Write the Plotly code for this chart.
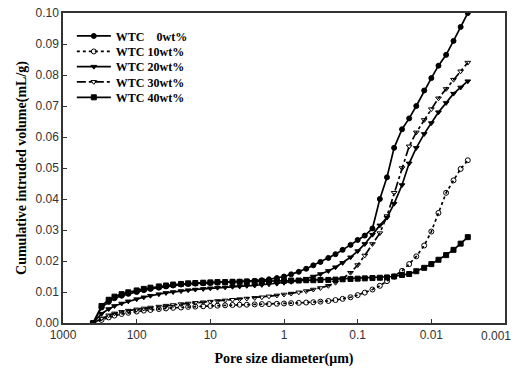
import plotly.graph_objects as go

# Pore diameters (µm) of the intrusion readings, shared by all samples
pore_diameter = [390, 300, 240, 200, 160, 130, 100, 80, 65, 50, 40, 32, 25, 20, 16, 12.5,
                 10, 8, 6.3, 5, 4, 3.2, 2.5, 2, 1.6, 1.25, 1, 0.8, 0.63, 0.5, 0.4, 0.32,
                 0.25, 0.2, 0.16, 0.125, 0.1, 0.08, 0.063, 0.05, 0.04, 0.032, 0.025, 0.02,
                 0.016, 0.0125, 0.01, 0.008, 0.0063, 0.005, 0.004, 0.0032]

# Cumulative intruded volume (mL/g)
wtc_0 = [0.0, 0.0050, 0.0068, 0.0080, 0.0088, 0.0094, 0.0100, 0.0106, 0.0110, 0.0114,
         0.0118, 0.0121, 0.0124, 0.0126, 0.0127, 0.0128, 0.0129, 0.0130, 0.0131, 0.0132,
         0.0133, 0.0134, 0.0136, 0.0138, 0.0141, 0.0145, 0.0150, 0.0157, 0.0165, 0.0175,
         0.0186, 0.0197, 0.0210, 0.0222, 0.0236, 0.0252, 0.0268, 0.0282, 0.0305, 0.0400,
         0.0470, 0.0565, 0.0625, 0.0660, 0.0700, 0.0750, 0.0790, 0.0830, 0.0865, 0.0910,
         0.0955, 0.1000]
wtc_10 = [0.0, 0.0010, 0.0018, 0.0024, 0.0029, 0.0033, 0.0037, 0.0040, 0.0042, 0.0045,
          0.0047, 0.0049, 0.0050, 0.0052, 0.0053, 0.0054, 0.0055, 0.0056, 0.0057, 0.0058,
          0.0059, 0.0059, 0.0060, 0.0061, 0.0061, 0.0062, 0.0063, 0.0064, 0.0065, 0.0066,
          0.0067, 0.0069, 0.0071, 0.0074, 0.0078, 0.0083, 0.0090, 0.0098, 0.0108, 0.0120,
          0.0135, 0.0150, 0.0168, 0.0190, 0.0215, 0.0250, 0.0295, 0.0355, 0.0420, 0.0460,
          0.0497, 0.0525]
wtc_20 = [0.0, 0.0030, 0.0045, 0.0055, 0.0063, 0.0070, 0.0077, 0.0083, 0.0088, 0.0093,
          0.0097, 0.0100, 0.0103, 0.0106, 0.0108, 0.0110, 0.0112, 0.0114, 0.0115, 0.0117,
          0.0118, 0.0120, 0.0121, 0.0123, 0.0125, 0.0127, 0.0130, 0.0133, 0.0137, 0.0143,
          0.0150, 0.0158, 0.0168, 0.0180, 0.0194, 0.0212, 0.0232, 0.0255, 0.0285, 0.0315,
          0.0340, 0.0385, 0.0445, 0.0515, 0.0565, 0.0610, 0.0645, 0.0680, 0.0710, 0.0740,
          0.0760, 0.0780]
wtc_30 = [0.0, 0.0015, 0.0025, 0.0031, 0.0036, 0.0040, 0.0044, 0.0047, 0.0050, 0.0053,
          0.0056, 0.0058, 0.0061, 0.0063, 0.0065, 0.0067, 0.0069, 0.0071, 0.0073, 0.0075,
          0.0077, 0.0079, 0.0081, 0.0083, 0.0086, 0.0089, 0.0092, 0.0095, 0.0099, 0.0103,
          0.0108, 0.0113, 0.0120, 0.0130, 0.0143, 0.0162, 0.0187, 0.0218, 0.0255, 0.0290,
          0.0345, 0.0420, 0.0500, 0.0570, 0.0615, 0.0655, 0.0690, 0.0725, 0.0755, 0.0785,
          0.0812, 0.0840]
wtc_40 = [0.0, 0.0055, 0.0075, 0.0085, 0.0093, 0.0099, 0.0105, 0.0110, 0.0114, 0.0118,
          0.0121, 0.0124, 0.0126, 0.0128, 0.0129, 0.0130, 0.0131, 0.0132, 0.0132, 0.0133,
          0.0133, 0.0134, 0.0134, 0.0135, 0.0135, 0.0136, 0.0136, 0.0137, 0.0137, 0.0138,
          0.0138, 0.0139, 0.0139, 0.0140, 0.0141, 0.0142, 0.0143, 0.0144, 0.0145, 0.0146,
          0.0147, 0.0150, 0.0155, 0.0158, 0.0167, 0.0178, 0.0190, 0.0204, 0.0219, 0.0236,
          0.0256, 0.0277]

series_names = ["WTC\u00a0\u00a0\u00a0\u00a00wt%", "WTC 10wt%", "WTC 20wt%", "WTC 30wt%", "WTC 40wt%"]
series_values = [wtc_0, wtc_10, wtc_20, wtc_30, wtc_40]

x_tick_values = [1000, 100, 10, 1, 0.1, 0.01, 0.001]
# the last label is written separately so it can sit just inside the page edge
x_tick_labels = ["1000", "100", "10", "1", "0.1", "0.01", ""]
x_end_label = "0.001"

styles = [
    dict(symbol="circle", dash="solid"),
    dict(symbol="circle-open", dash="dot"),
    dict(symbol="triangle-down", dash="solid"),
    dict(symbol="triangle-down-open", dash="dashdot"),
    dict(symbol="square", dash="solid"),
]

# one single-entry legend per series, stacked tightly in the upper left
legend_ids = ["legend", "legend2", "legend3", "legend4", "legend5"]
legend_rows = [0.926, 0.876, 0.827, 0.778, 0.728]

fig = go.Figure()
for name, vals, st, lid in zip(series_names, series_values, styles, legend_ids):
    fig.add_trace(go.Scatter(
        x=pore_diameter, y=vals, name=name, mode="lines+markers", legend=lid,
        line=dict(color="black", width=1.7, dash=st["dash"]),
        marker=dict(symbol=st["symbol"], size=5, color="black",
                    line=dict(color="black", width=1)),
    ))

axis_font = dict(family="Liberation Sans, Arial, sans-serif", size=12, color="#333333")
title_font = dict(family="Liberation Serif, Times New Roman, serif", size=14,
                  color="black", weight="bold")
legend_font = dict(family="Liberation Serif, Times New Roman, serif", size=12,
                   color="black", weight="bold")

legends = {}
for lid, row in zip(legend_ids, legend_rows):
    legends[lid] = dict(
        x=0.02, y=row, xanchor="left", yanchor="middle",
        bgcolor="rgba(0,0,0,0)", borderwidth=0,
        font=legend_font, itemwidth=34,
    )

fig.add_annotation(
    x=-3, xref="x", y=0, yref="paper", text=x_end_label, showarrow=False,
    xanchor="center", yanchor="top", xshift=-9, yshift=-4, font=axis_font,
)

fig.update_layout(
    width=519, height=376,
    margin=dict(l=63, r=14, t=13, b=53, autoexpand=False),
    paper_bgcolor="white", plot_bgcolor="white",
    showlegend=True,
    **legends,
    xaxis=dict(
        type="log", range=[3, -3], automargin=False,
        tickvals=x_tick_values, ticktext=x_tick_labels,
        ticks="inside", ticklen=4, tickcolor="#333333",
        showline=True, linecolor="#333333", linewidth=1.5, mirror=True,
        showgrid=False, zeroline=False, tickfont=axis_font,
        title=dict(text="Pore size diameter(μm)", font=title_font, standoff=12),
    ),
    yaxis=dict(
        range=[0, 0.10], dtick=0.01, tickformat=".2f", automargin=False,
        ticks="inside", ticklen=4, tickcolor="#333333",
        showline=True, linecolor="#333333", linewidth=1.5, mirror=True,
        showgrid=False, zeroline=False, tickfont=axis_font,
        title=dict(text="Cumulative intruded volume(mL/g)", font=title_font, standoff=6),
    ),
)

fig.write_html("out.html")
